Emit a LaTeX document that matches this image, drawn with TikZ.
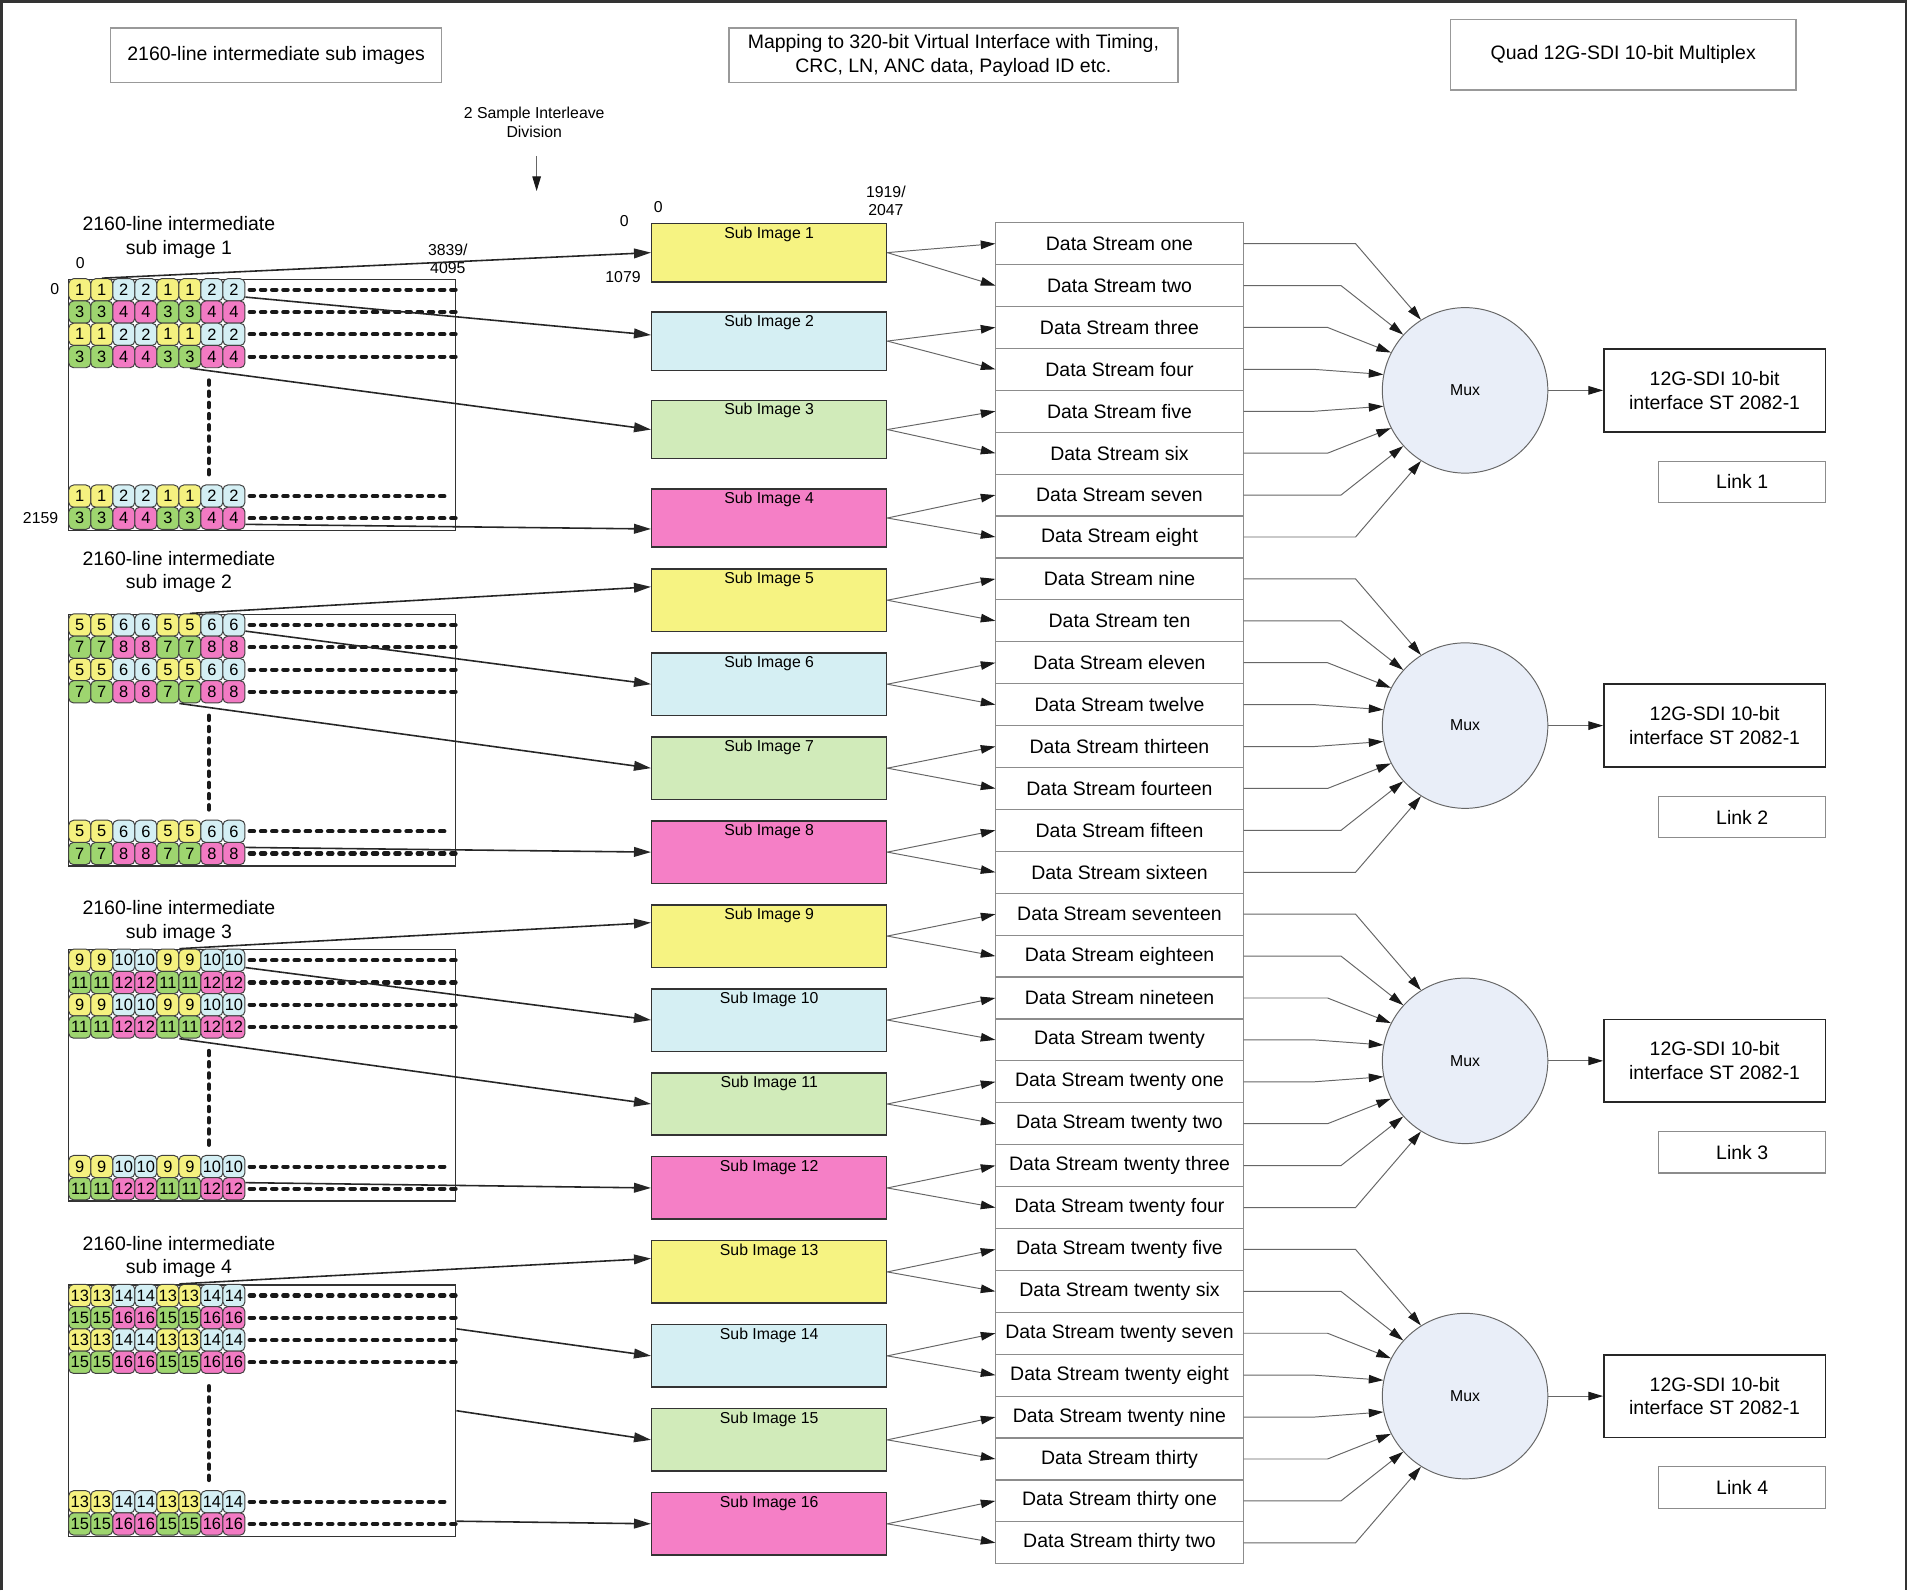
\documentclass[tikz,border=0pt]{standalone}
\usepackage{fontspec}
\setmainfont{Liberation Sans}
\usepackage{xcolor}
\usepackage{tikz}
\usetikzlibrary{positioning}
\usetikzlibrary{arrows.meta}

\definecolor{celda0}{HTML}{F5F17F}
\definecolor{celda1}{HTML}{D4EFF4}
\definecolor{celda2}{HTML}{9ED56F}
\definecolor{celda3}{HTML}{F27AC3}
\definecolor{sub0}{HTML}{F6F382}
\definecolor{sub1}{HTML}{D5EFF3}
\definecolor{sub2}{HTML}{D1EBBA}
\definecolor{sub3}{HTML}{F57FC6}
\definecolor{muxfill}{HTML}{E9EEF8}

\newcommand{\txtgrande}{\fontsize{16}{19.5}\selectfont}
\newcommand{\txtmedio}{\fontsize{13}{15}\selectfont}
\newcommand{\txtcelda}{\fontsize{13.5}{14}\selectfont}

\tikzset{
  celda/.style={draw=black!75, line width=0.8pt, rounded corners=4pt,
    minimum width=18.1pt, minimum height=18.3pt, inner sep=0pt, font=\txtcelda},
  marco/.style={draw=black!80, line width=1.1pt, minimum width=318pt,
    minimum height=206.5pt, inner sep=0pt, anchor=north west},
  puntos/.style={black!90, line width=3.4pt, dash pattern=on 3.6pt off 5.6pt, line cap=round},
  subimg/.style={draw=black!80, line width=1.2pt, minimum width=193pt,
    inner sep=0pt, anchor=north west},
  flujo/.style={draw=black!45, line width=1pt, minimum width=204pt,
    minimum height=34.44pt, inner sep=0pt, outer sep=0pt, font=\txtgrande},
  mux/.style={circle, draw=black!60, line width=0.8pt, fill=muxfill,
    minimum size=136pt, inner sep=0pt, font=\txtmedio},
  sdi/.style={draw=black!85, line width=1.3pt, minimum width=182pt,
    minimum height=68pt, align=center, font=\txtgrande},
  enlace/.style={draw=black!45, line width=1pt, minimum width=137pt,
    minimum height=34pt, font=\txtgrande},
  cabecera/.style={draw=black!40, line width=1pt, align=center, font=\txtgrande},
  etiq/.style={inner sep=0pt, font=\txtmedio, align=center},
  flechagr/.style={draw=black!85, line width=1.3pt, -{Triangle[length=14pt,width=8pt]}},
  flechafi/.style={draw=black!60, line width=0.8pt,
    -{Triangle[length=12pt,width=7pt,color=black!90]}},
}

\begin{document}
\begin{tikzpicture}[x=1pt, y=-1pt]
  \useasboundingbox (0,0) rectangle (1568,1307);
  % Marco exterior
  \draw[line width=2.2pt, black!80] (1.1,1307) -- (1.1,1.1) -- (1566.4,1.1) -- (1566.4,1307);

  % Cabeceras
  \node[cabecera, minimum width=272pt, minimum height=45pt] (cabsub) at (227,45.5) {2160-line intermediate sub images};
  \node[cabecera, minimum width=369pt, minimum height=45pt] (cabmap) at (783.5,45.5) {Mapping to 320-bit Virtual Interface with Timing,\\CRC, LN, ANC data, Payload ID etc.};
  \node[cabecera, minimum width=284pt, minimum height=58pt] (cabquad) at (1334,45) {Quad 12G-SDI 10-bit Multiplex};

  % Division en muestras
  \node[etiq] (interl) at (439,100.5) {2 Sample Interleave\\Division};
  \coordinate (interl-a) at (441,128);
  \coordinate (interl-b) at (441,157);
  \draw[flechafi] (interl-a) -- (interl-b);

  % Imagenes intermedias (celdas y filas de puntos)
  \foreach \g/\toff in {1/34, 2/34.5, 3/23, 4/22.5} {
    \pgfmathsetmacro{\gy}{229+275.5*(\g-1)}
    \node[etiq, font=\txtgrande] (tit\g) at (147,\gy-\toff) {2160-line intermediate\\sub image \g};
    \node[marco] (img\g) at (56,\gy) {};
    \foreach \row/\ry in {1/9.15, 2/27.45, 3/45.75, 4/64.05, 5/178.7, 6/196.9} {
      \foreach \col in {1,...,8} {
        \pgfmathtruncatemacro{\tipo}{mod(floor((\col-1)/2),2)+2*(1-mod(\row,2))}
        \pgfmathtruncatemacro{\num}{4*(\g-1)+1+\tipo}
        \node[celda, fill=celda\tipo] (c\g\row\col) at (65.55+18.1*\col-18.1,\gy+\ry) {\num};
      }
      \pgfmathsetmacro{\acorta}{\row==5 ? 8 : 0}
      \draw[puntos, shorten >=\acorta pt] ([xshift=3.5pt]c\g\row8.east) -- (c\g\row8.east -| img\g.east);
    }
    \draw[puntos] ([xshift=-2.5pt,yshift=-10pt]c\g47.south) -- ([xshift=-2.5pt,yshift=8pt]c\g57.north);
  }

  % Etiquetas de coordenadas
  \node[etiq] (x0) at (66,216) {0};
  \node[etiq] (y0) at (45,237.5) {0};
  \node[etiq, anchor=east] (y2159) at (48,426) {2159};
  \node[etiq] (xmax) at (368,212.5) {3839/\\4095};
  \node[etiq] (sx0) at (541,170) {0};
  \node[etiq] (sy0) at (513,182) {0};
  \node[etiq] (symax) at (512,228) {1079};
  \node[etiq] (sxmax) at (728,165) {1919/\\2047};

  % Sub imagenes
  \foreach \k in {1,...,16} {
    \pgfmathtruncatemacro{\tipo}{mod(\k-1,4)}
    \ifnum\k<5
      \pgfmathsetmacro{\sy}{183+72.7*(\k-1)}\def\sh{48}
    \else
      \pgfmathsetmacro{\sy}{467+69*(\k-5)}\def\sh{51.3}
    \fi
    \node[subimg, fill=sub\tipo, minimum height=\sh pt,
      label={[etiq, anchor=north, yshift=-3pt]north:Sub Image \k}] (si\k) at (535,\sy) {};
  }

  % De las imagenes a las sub imagenes
  \draw[flechagr] (c112.north) -- (si1.west);
  \draw[flechagr] ([yshift=-6pt]c118.east) -- ([yshift=5pt]si2.west);
  \draw[flechagr] (c146.south) -- (si3.west);
  \draw[flechagr] ([yshift=-5pt]c168.east) -- ([yshift=-9pt]si4.west);
  \draw[flechagr] (c216.north) -- ([yshift=11pt]si5.west);
  \draw[flechagr] ([yshift=-5pt]c218.east) -- (si6.west);
  \draw[flechagr] (c245.south east) -- (si7.west);
  \draw[flechagr] ([yshift=5pt]c268.east) -- (si8.west);
  \draw[flechagr] (c315.north east) -- ([yshift=11pt]si9.west);
  \draw[flechagr] ([yshift=-6pt]c318.east) -- (si10.west);
  \draw[flechagr] (c345.south east) -- (si11.west);
  \draw[flechagr] ([yshift=5pt]c368.east) -- (si12.west);
  \draw[flechagr] (c415.north east) -- ([yshift=11pt]si13.west);
  \draw[flechagr] ([yshift=-36.5pt]img4.north east) -- (si14.west);
  \draw[flechagr] (img4.east) -- (si15.west);
  \draw[flechagr] ([yshift=13pt]img4.south east) -- (si16.west);

  % Flujos de datos
  \foreach \nm [count=\i] in {one,two,three,four,five,six,seven,eight,nine,ten,
      eleven,twelve,thirteen,fourteen,fifteen,sixteen,seventeen,eighteen,nineteen,twenty,
      twenty one,twenty two,twenty three,twenty four,twenty five,twenty six,twenty seven,
      twenty eight,twenty nine,thirty,thirty one,thirty two} {
    \ifnum\i=1
      \node[flujo, anchor=north west] (ds1) at (818,183) {Data Stream \nm};
    \else
      \pgfmathtruncatemacro{\prev}{\i-1}
      \node[flujo, below=0pt of ds\prev] (ds\i) {Data Stream \nm};
    \fi
  }
  \foreach \k in {1,...,16} {
    \pgfmathtruncatemacro{\da}{2*\k-1}
    \pgfmathtruncatemacro{\dbb}{2*\k}
    \draw[flechafi] (si\k.east) -- (ds\da.west);
    \draw[flechafi] (si\k.east) -- (ds\dbb.west);
  }

  % Multiplexores y salidas
  \foreach \g in {1,...,4} {
    \node[mux] (mux\g) at (1204,320.8+275.5*\g-275.5) {Mux};
    \node[sdi, right=45pt of mux\g] (sdi\g) {12G-SDI 10-bit\\interface ST 2082-1};
    \node[enlace, below=23pt of sdi\g.south east, anchor=north east] (link\g) {Link \g};
    \draw[flechafi] (mux\g) -- (sdi\g);
    \foreach \i/\dx/\ang in {1/92/122, 2/80/138, 3/69/153, 4/58/169, 5/58/191, 6/69/207, 7/80/222, 8/92/238} {
      \pgfmathtruncatemacro{\nds}{8*(\g-1)+\i}
      \draw[flechafi] (ds\nds.east) -- ([xshift=\dx pt]ds\nds.east) -- (mux\g.\ang);
    }
  }
\end{tikzpicture}
\end{document}
